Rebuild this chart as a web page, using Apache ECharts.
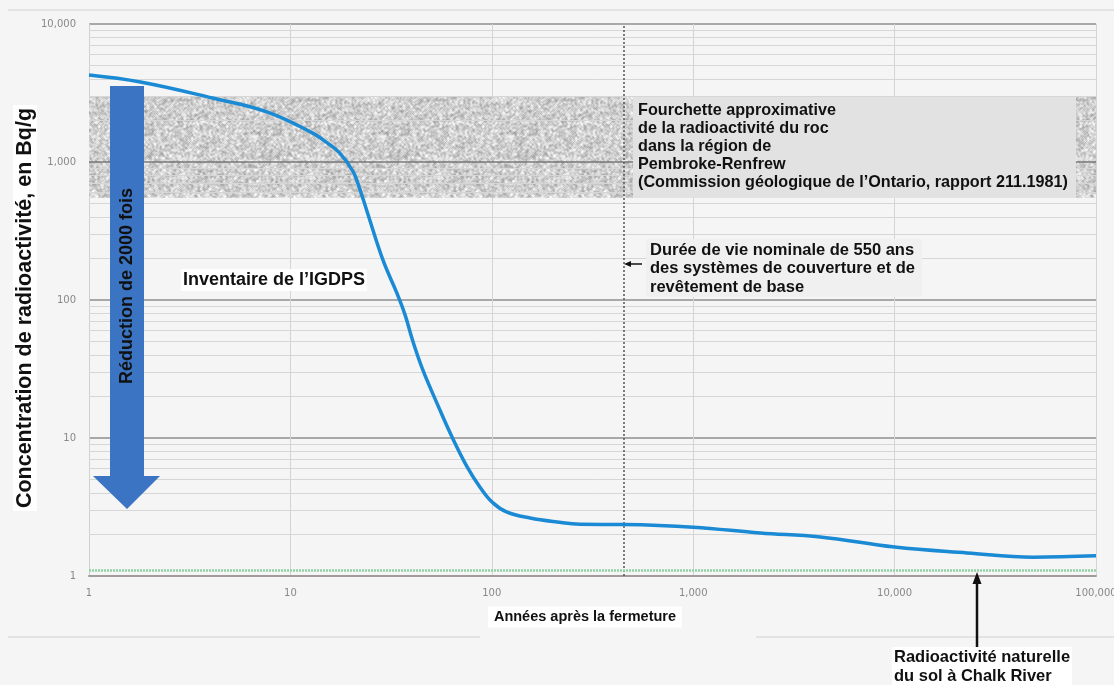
<!DOCTYPE html>
<html>
<head>
<meta charset="utf-8">
<style>
  html, body { margin: 0; padding: 0; background: #f5f5f5; }
  #chart { width: 1114px; height: 685px; }
</style>
<script src="https://cdn.jsdelivr.net/npm/echarts@6/dist/echarts.min.js"></script>
</head>
<body>
<div id="chart"></div>
<script>
// données
const years = [1, 1.8, 4.1, 7.7, 12.9, 15, 17.6, 20.5, 22, 24, 28.8, 33.8, 37.1, 40.6, 45.5, 53.4, 63.4, 75.3, 87.4, 101, 119, 155, 211, 274, 448, 1000, 2150, 4270, 10000, 22900, 48700, 100000];
const activity = [4270, 3800, 2910, 2300, 1620, 1400, 1160, 850, 650, 440, 195, 112, 78, 50, 31, 17.9, 10.2, 6.2, 4.4, 3.4, 2.9, 2.63, 2.46, 2.37, 2.36, 2.26, 2.05, 1.92, 1.62, 1.47, 1.37, 1.40];
const xTicks = [1, 10, 100, 1000, 10000, 100000];
const yTicks = [1, 10, 100, 1000, 10000];
const rockRange = [550, 3000];     // fourchette du roc
const coverLife = 450;             // position de la ligne pointillée
const naturalLevel = 1.1;          // radioactivité naturelle du sol

// lignes secondaires 2..9 de chaque décade
const minorLines = [];
yTicks.slice(0, -1).forEach(d => { for (let k = 2; k <= 9; k++) minorLines.push(d * k); });

const fmt = v => Number(v).toLocaleString('en-US');

// texture granitée pour la bande
function granite() {
  const N = 128;
  const c = document.createElement('canvas');
  c.width = N; c.height = N;
  const ctx = c.getContext('2d');
  const img = ctx.createImageData(N, N);
  const hash = (a, b) => {
    let h = (a * 374761393 + b * 668265263) | 0;
    h = Math.imul(h ^ (h >>> 13), 1274126177);
    h ^= h >>> 16;
    return (h >>> 0) / 4294967296;
  };
  const raw = [];
  for (let y = 0; y < N; y++) for (let x = 0; x < N; x++) raw.push(hash(x, y));
  for (let y = 0; y < N; y++) {
    for (let x = 0; x < N; x++) {
      // léger flou pour des taches plus douces
      let s = 0;
      for (let dy = -1; dy <= 1; dy++) for (let dx = -1; dx <= 1; dx++) {
        s += raw[((y + dy + N) % N) * N + ((x + dx + N) % N)];
      }
      s /= 9;
      const f = raw[y * N + x];
      const v = Math.round(207 + (s - 0.5) * 120 + (f - 0.5) * 30);
      const i = (y * N + x) * 4;
      img.data[i] = v; img.data[i + 1] = v; img.data[i + 2] = v; img.data[i + 3] = 255;
    }
  }
  ctx.putImageData(img, 0, 0);
  return c;
}

const myChart = echarts.init(document.getElementById('chart'));

const boldFont = 'bold 16.2px "Liberation Sans", Arial, sans-serif';

myChart.setOption({
  backgroundColor: '#f5f5f5',
  animation: false,
  grid: { left: 89, right: 18, top: 24, bottom: 109, containLabel: false, outerBoundsMode: 'none' },
  xAxis: {
    type: 'log', logBase: 10, min: xTicks[0], max: xTicks[xTicks.length - 1],
    axisLine: { show: true, lineStyle: { color: '#a39a9a', width: 2 } },
    axisTick: { show: false },
    axisLabel: { formatter: fmt, color: '#888', fontSize: 10, fontFamily: 'DejaVu Sans', margin: 12 },
    splitLine: { show: true, lineStyle: { color: '#d4d4d4', width: 1 } }
  },
  yAxis: {
    type: 'log', logBase: 10, min: yTicks[0], max: yTicks[yTicks.length - 1],
    axisLine: { show: true, lineStyle: { color: '#cfcfcf', width: 1 } },
    axisTick: { show: false },
    axisLabel: { formatter: fmt, color: '#888', fontSize: 10, fontFamily: 'DejaVu Sans', margin: 13 },
    splitLine: { show: true, lineStyle: { color: '#8e8e8e', width: 1.5 } }
  },
  series: [
    {
      name: 'minor', type: 'line', data: [], z: 1, silent: true,
      markLine: {
        silent: true, symbol: ['none', 'none'], label: { show: false },
        lineStyle: { color: '#d6d6d6', width: 1, type: 'solid' },
        data: minorLines.map(v => ({ yAxis: v }))
      }
    },
    {
      name: 'roc', type: 'line', data: [], z: 2, silent: true,
      markArea: {
        silent: true,
        itemStyle: { color: { image: granite(), repeat: 'repeat' } },
        data: [[{ yAxis: rockRange[0] }, { yAxis: rockRange[1] }]]
      }
    },
    {
      name: 'repères', type: 'line', data: [], z: 3, silent: true,
      markLine: {
        silent: true, symbol: ['none', 'none'], label: { show: false },
        data: [
          { yAxis: 1000, lineStyle: { color: '#777', width: 1.5, type: 'solid' } },
          { xAxis: coverLife, lineStyle: { color: '#555', width: 1.5, type: [2, 2] } },
          { yAxis: naturalLevel, lineStyle: { color: '#8fd3a4', width: 2.5, type: [2, 1] } }
        ]
      }
    },
    {
      name: 'IGDPS', type: 'line', z: 5,
      data: years.map((x, i) => [x, activity[i]]),
      smooth: 0.4, showSymbol: false,
      lineStyle: { color: '#1a8ad4', width: 3.5 }
    }
  ],
  graphic: [
    // cadre
    { type: 'line', shape: { x1: 8, y1: 10, x2: 1114, y2: 10 }, style: { stroke: '#dcdcdc', lineWidth: 1.5 }, silent: true },
    { type: 'line', shape: { x1: 8, y1: 637, x2: 480, y2: 637 }, style: { stroke: '#dcdcdc', lineWidth: 1.5 }, silent: true },
    { type: 'line', shape: { x1: 756, y1: 637, x2: 1114, y2: 637 }, style: { stroke: '#dcdcdc', lineWidth: 1.5 }, silent: true },
    // titre axe Y
    {
      type: 'text', x: 25, y: 308, rotation: Math.PI / 2, z: 10,
      style: { text: 'Concentration de radioactivité, en Bq/g', font: 'bold 21.5px "Liberation Sans", Arial, sans-serif', fill: '#111', align: 'center', verticalAlign: 'middle', backgroundColor: '#fff', padding: [1, 3] }
    },
    // titre axe X
    {
      type: 'text', x: 585, y: 617, z: 10,
      style: { text: 'Années après la fermeture', font: 'bold 14.5px "Liberation Sans", Arial, sans-serif', fill: '#111', align: 'center', verticalAlign: 'middle', backgroundColor: '#fff', padding: [3, 6] }
    },
    // flèche bleue
    {
      type: 'polygon', z: 10,
      shape: { points: [[110, 86], [144, 86], [144, 476], [160, 476], [127, 509], [93, 476], [110, 476]] },
      style: { fill: '#3a74c3' }
    },
    {
      type: 'text', x: 127, y: 286, rotation: Math.PI / 2, z: 11,
      style: { text: 'Réduction de 2000 fois', font: 'bold 18px "Liberation Sans", Arial, sans-serif', fill: '#111', align: 'center', verticalAlign: 'middle' }
    },
    {
      type: 'text', x: 181, y: 280, z: 10,
      style: { text: 'Inventaire de l’IGDPS', font: 'bold 18px "Liberation Sans", Arial, sans-serif', fill: '#111', align: 'left', verticalAlign: 'middle', backgroundColor: '#fff', padding: [2, 2] }
    },
    // encadré roc
    { type: 'rect', z: 10, shape: { x: 633, y: 97, width: 443, height: 101 }, style: { fill: '#e2e2e2' } },
    {
      type: 'text', x: 638, y: 102, z: 11,
      style: {
        text: 'Fourchette approximative\nde la radioactivité du roc\ndans la région de\nPembroke-Renfrew\n(Commission géologique de l’Ontario, rapport 211.1981)',
        font: boldFont, lineHeight: 18, fill: '#111', align: 'left', verticalAlign: 'top'
      }
    },
    // encadré durée de vie
    { type: 'rect', z: 10, shape: { x: 646, y: 239, width: 276, height: 58 }, style: { fill: '#f0f0f0' } },
    {
      type: 'text', x: 650, y: 241, z: 11,
      style: {
        text: 'Durée de vie nominale de 550 ans\ndes systèmes de couverture et de\nrevêtement de base',
        font: 'bold 16.5px "Liberation Sans", Arial, sans-serif', lineHeight: 18.5, fill: '#111', align: 'left', verticalAlign: 'top'
      }
    },
    { type: 'line', z: 11, shape: { x1: 642, y1: 264, x2: 630, y2: 264 }, style: { stroke: '#111', lineWidth: 1.5 } },
    { type: 'polygon', z: 11, shape: { points: [[624, 264], [631, 261], [631, 267]] }, style: { fill: '#111' } },
    // radioactivité naturelle
    { type: 'line', z: 11, shape: { x1: 977, y1: 668, x2: 977, y2: 582 }, style: { stroke: '#111', lineWidth: 2.5 } },
    { type: 'polygon', z: 11, shape: { points: [[977, 572], [972.5, 584], [981.5, 584]] }, style: { fill: '#111' } },
    {
      type: 'text', x: 892, y: 647, z: 11,
      style: {
        text: 'Radioactivité naturelle\ndu sol à Chalk River',
        font: 'bold 16.5px "Liberation Sans", Arial, sans-serif', lineHeight: 19, fill: '#111', align: 'left', verticalAlign: 'top', backgroundColor: '#fff', padding: [1, 2]
      }
    }
  ]
});
</script>
</body>
</html>
